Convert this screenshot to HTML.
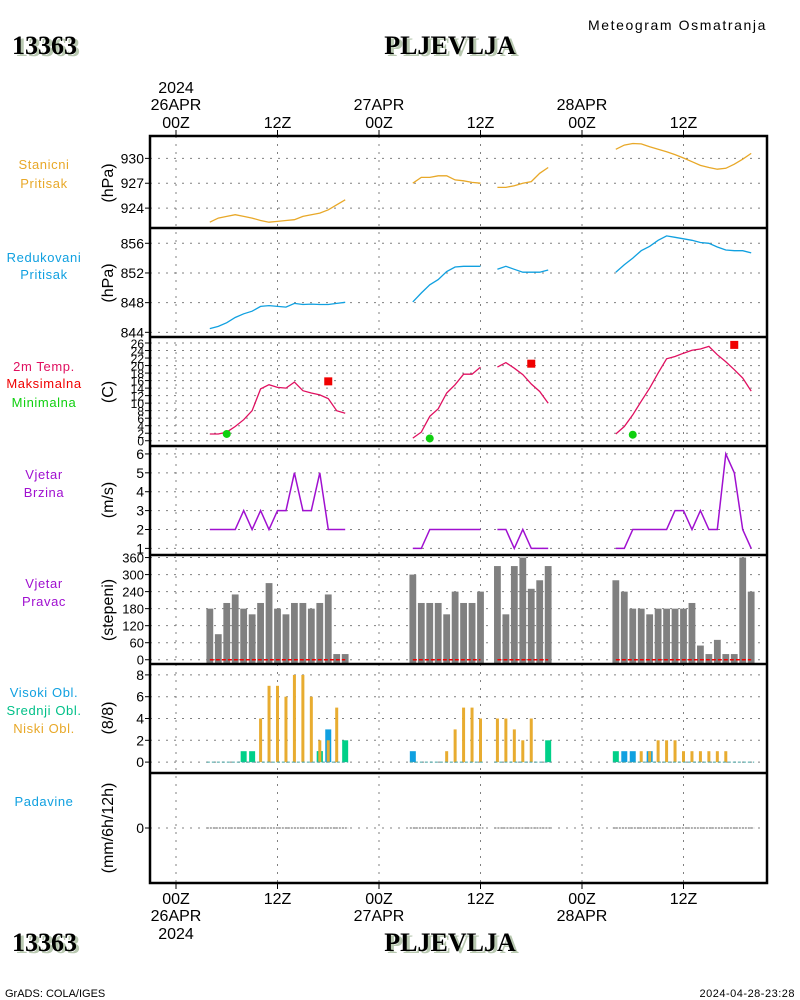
<!DOCTYPE html>
<html><head><meta charset="utf-8">
<style>
html,body{margin:0;padding:0;background:#fff;}
svg{display:block;font-family:"Liberation Sans",sans-serif;}
.t{font-size:14px;fill:#000;}
.ttl{font-family:"Liberation Serif",serif;font-weight:bold;font-size:26px;}
</style></head>
<body>
<svg id="chart" width="800" height="1000" viewBox="0 0 800 1000" xmlns="http://www.w3.org/2000/svg">
<g>
<text x="15" y="56" class="ttl" fill="#b8c8b0">13363</text>
<text x="12" y="54" class="ttl" fill="#000">13363</text>
<text x="453" y="56" class="ttl" fill="#b8c8b0" text-anchor="middle">PLJEVLJA</text>
<text x="450" y="54" class="ttl" fill="#000" text-anchor="middle">PLJEVLJA</text>
<text x="767" y="30" class="t" font-size="16" letter-spacing="1.6" text-anchor="end">Meteogram Osmatranja</text>
<text x="15" y="953" class="ttl" fill="#b8c8b0">13363</text>
<text x="12" y="951" class="ttl" fill="#000">13363</text>
<text x="453" y="953" class="ttl" fill="#b8c8b0" text-anchor="middle">PLJEVLJA</text>
<text x="450" y="951" class="ttl" fill="#000" text-anchor="middle">PLJEVLJA</text>
<text x="5" y="997" font-size="11">GrADS: COLA/IGES</text>
<text x="795" y="997" font-size="11" letter-spacing="0.5" text-anchor="end">2024-04-28-23:28</text>
</g>
</svg>
<script>
const segStart=[4,28,38,52];
const stnP=[[922.3,922.8,923.0,923.2,923.0,922.8,922.5,922.3,922.4,922.5,922.6,923.0,923.2,923.4,923.8,924.4,925.0],
[927.0,927.7,927.7,927.9,927.9,927.4,927.3,927.1,927.0],
[926.5,926.5,926.7,927.0,927.2,928.2,928.9],
[931.1,931.6,931.8,931.75,931.4,931.1,930.8,930.45,930.05,929.6,929.15,928.9,928.7,928.8,929.3,929.9,930.6]];
const redP=[[844.5,844.8,845.3,846.0,846.5,846.85,847.5,847.6,847.5,847.4,847.9,847.75,847.8,847.75,847.75,847.9,848.05],
[848.1,849.3,850.4,851.1,852.2,852.8,852.9,852.9,852.9],
[852.5,852.9,852.5,852.1,852.1,852.1,852.4],
[852.1,853.1,854.0,855.0,855.6,856.4,857.0,856.8,856.6,856.4,856.1,856.0,855.5,855.1,855.0,855.0,854.7]];
const temp=[[1.8,1.8,2.3,3.8,5.6,8.0,13.8,14.9,14.2,14.0,15.6,13.3,12.7,12.2,11.2,8.0,7.3],
[0.7,2.3,6.5,8.5,12.7,14.9,17.7,17.7,19.6],
[19.6,20.8,19.3,17.6,15.1,13.1,10.0],
[1.8,3.8,6.9,10.5,14.0,18.0,21.8,22.4,23.3,24.1,24.4,25.1,22.9,21.0,18.9,16.7,13.2]];
const tmaxHours=[18,42,66];
const tmaxVals=[15.8,20.5,25.5];
const tminHours=[6,30,54];
const tminVals=[1.8,0.6,1.6];
const wspd=[[2,2,2,2,3,2,3,2,3,3,5,3,3,5,2,2,2],
[1,1,2,2,2,2,2,2,2],
[2,2,1,2,1,1,1],
[1,1,2,2,2,2,2,3,3,2,3,2,2,6,5,2,1]];
const wdir=[[180,90,200,230,180,160,200,270,180,160,200,200,180,200,230,20,20],
[300,200,200,200,160,240,200,200,240],
[330,160,330,360,250,280,330],
[280,240,180,180,160,180,180,180,180,200,50,20,70,20,20,360,240]];
const cloudLow=[[0,0,0,0,0,0,4,7,7,6,8,8,6,2,2,5,0],
[0,0,0,0,1,3,5,5,4],
[4,4,3,2,4,0,0],
[0,0,0,1,1,2,2,2,1,1,1,1,1,1,0,0,0]];
const cloudMid=[[0,0,0,0,1,1,0,0,0,0,0,0,0,1,0,0,2],
[0,0,0,0,0,0,0,0,0],
[0,0,0,0,0,0,2],
[1,0,0,0,0,0,0,0,0,0,0,0,0,0,0,0,0]];
const cloudHigh=[[0,0,0,0,0,0,0,0,0,0,0,0,0,1,3,0,0],
[1,0,0,0,0,0,0,0,0],
[0,0,0,0,0,0,0],
[0,1,1,0,1,0,0,0,0,0,0,0,0,0,0,0,0]];
const precip=[[0,0,0],[0,0],[0,0],[0,0,0]];
const timeTicks=[0,12,24,36,48,60];
const timeLabels=["00Z","12Z","00Z","12Z","00Z","12Z"];
const dayLabels=["26APR","","27APR","","28APR",""];
const stnTicks=[924,927,930];
const redTicks=[844,848,852,856];
const tempTicks=[0,2,4,6,8,10,12,14,16,18,20,22,24,26];
const wsTicks=[1,2,3,4,5,6];
const wdTicks=[0,60,120,180,240,300,360];
const clTicks=[0,2,4,6,8];
const prTicks=[0];

const svg=document.getElementById('chart');
const NS='http://www.w3.org/2000/svg';
const X0=150,X1=767;
function xh(h){return 176+h*101.5/12;}
function mk(tag,attrs,parent){const e=document.createElementNS(NS,tag);for(const k in attrs)e.setAttribute(k,attrs[k]);(parent||svg).appendChild(e);return e;}
function txt(x,y,s,attrs,parent){const e=mk('text',Object.assign({x:x,y:y},attrs||{}),parent);e.textContent=s;return e;}
const panels={
 stn:{top:136,bot:228,vmin:921.6,vmax:932.7},
 red:{top:228,bot:337,vmin:843.37,vmax:858.06},
 tmp:{top:337,bot:446,vmin:-1.4,vmax:27.6},
 ws:{top:446,bot:555,vmin:0.65,vmax:6.42},
 wd:{top:555,bot:664,vmin:-15,vmax:369},
 cl:{top:664,bot:773,vmin:-1.0,vmax:9.0},
 pr:{top:773,bot:883,vmin:-1,vmax:1}
};
function ym(p,v){const P=panels[p];return P.bot-(v-P.vmin)/(P.vmax-P.vmin)*(P.bot-P.top);}

const grid=mk('g',{});


for(const h of timeTicks){const l=mk('line',{x1:xh(h),x2:xh(h),y1:136,y2:883,stroke:'#808080','stroke-dasharray':'2,6'},grid);

}
function hgrid(p,ticks,fs){
 const g=mk('g',{});
 
 
 for(const t of ticks){const y=ym(p,t);
  mk('line',{x1:X0,x2:X1,y1:y,y2:y,stroke:'#808080','stroke-dasharray':'2,6'},g);
  mk('line',{x1:X0-5,x2:X0,y1:y,y2:y,stroke:'#000'},g);
  const tl=txt(X0-6,y+5,String(t),{'text-anchor':'end','font-size':fs||14},g);
  
  }
}
hgrid('stn',stnTicks);hgrid('red',redTicks);hgrid('tmp',tempTicks,12);hgrid('ws',wsTicks);
hgrid('wd',wdTicks,13);hgrid('cl',clTicks);hgrid('pr',prTicks);

function seriesLine(p,data,color,name,w){
 data.forEach((seg,si)=>{const pts=seg.map((v,i)=>xh(segStart[si]+i).toFixed(1)+','+ym(p,v).toFixed(1)).join(' ');
  const pl=mk('polyline',{points:pts,fill:'none',stroke:color,'stroke-width':w||1.3});
  
  });
}
seriesLine('stn',stnP,'#e8a828','station-pressure-line');
seriesLine('red',redP,'#10a0e0','reduced-pressure-line');
seriesLine('tmp',temp,'#e01060','temperature-line');
seriesLine('ws',wspd,'#a010d0','wind-speed-line',1.5);
tmaxHours.forEach((h,i)=>{const r=mk('rect',{x:xh(h)-4,y:ym('tmp',tmaxVals[i])-4,width:8,height:8,fill:'#f00000'});
 
 });
tminHours.forEach((h,i)=>{const c=mk('circle',{cx:xh(h),cy:ym('tmp',tminVals[i]),r:4,fill:'#10d010'});
 
 });
wdir.forEach((seg,si)=>{seg.forEach((v,i)=>{const x=xh(segStart[si]+i);const y=ym('wd',v),y0=ym('wd',0);
 const r=mk('rect',{x:x-3.4,y:y,width:6.8,height:y0-y+5,fill:'#808080'});
 
 });
 const l=mk('line',{x1:xh(segStart[si]),x2:xh(segStart[si]+seg.length-1),y1:ym('wd',0),y2:ym('wd',0),stroke:'#f00000','stroke-width':1.5,'stroke-dasharray':'4,2'});
 
 });
function cbars(data,color,w,name){data.forEach((seg,si)=>{seg.forEach((v,i)=>{if(v<=0)return;const x=xh(segStart[si]+i);const y=ym('cl',v),y0=ym('cl',0);
 const r=mk('rect',{x:x-w/2,y:y,width:w,height:y0-y,fill:color});
 
 });});}
cbars(cloudHigh,'#10a0e0',6,'high-cloud-bar');
cbars(cloudMid,'#00d088',6,'mid-cloud-bar');
cbars(cloudLow,'#e8ac30',3,'low-cloud-bar');
cloudLow.forEach((seg,si)=>{const l=mk('line',{x1:xh(segStart[si])-3,x2:xh(segStart[si]+seg.length-1)+3,y1:ym('cl',0),y2:ym('cl',0),stroke:'#40a0a0','stroke-dasharray':'3,2'});
 
 });
cloudLow.forEach((seg,si)=>{const l=mk('line',{x1:xh(segStart[si])-3,x2:xh(segStart[si]+seg.length-1)+3,y1:ym('pr',precip[si][0]),y2:ym('pr',precip[si][0]),stroke:'#606060','stroke-dasharray':'2,1'});
 
 });
const fr=mk('g',{});


mk('rect',{x:X0,y:136,width:X1-X0,height:883-136,fill:'none',stroke:'#000','stroke-width':2.5},fr);
for(const y of [228,337,446,555,664,773])mk('line',{x1:X0,x2:X1,y1:y,y2:y,stroke:'#000','stroke-width':2.5},fr);
timeTicks.forEach((h,i)=>{const x=xh(h);
 mk('line',{x1:x,x2:x,y1:130,y2:136,stroke:'#000'});mk('line',{x1:x,x2:x,y1:883,y2:889,stroke:'#000'});
 const a=txt(x,128,timeLabels[i],{'text-anchor':'middle'});
 
 
 const b=txt(x,904,timeLabels[i],{'text-anchor':'middle'});
 
 
 if(dayLabels[i]){const c=txt(x,110,dayLabels[i],{'text-anchor':'middle'});
  
  
  const d=txt(x,921,dayLabels[i],{'text-anchor':'middle'});
  
  }
});
const y1=txt(xh(0),93,'2024',{'text-anchor':'middle'});


const y2=txt(xh(0),939,'2024',{'text-anchor':'middle'});


const L=[["Stanicni",169,'#e8a828'],["Pritisak",188,'#e8a828'],["Redukovani",262,'#10a0e0'],["Pritisak",279,'#10a0e0'],
["2m Temp.",371,'#e01060'],["Maksimalna",388,'#f00000'],["Minimalna",407,'#10d010'],
["Vjetar",479,'#a010d0'],["Brzina",497,'#a010d0'],["Vjetar",588,'#a010d0'],["Pravac",606,'#a010d0'],
["Visoki Obl.",697,'#10a0e0'],["Srednji Obl.",715,'#00c088'],["Niski Obl.",733,'#e8a828'],["Padavine",806,'#10a0e0']];
L.forEach(l=>{const e=txt(44,l[1],l[0],{'text-anchor':'middle',fill:l[2],'font-size':13,'letter-spacing':0.6});
 
 });
const U=[["(hPa)",183],["(hPa)",283],["(C)",392],["(m/s)",500],["(stepeni)",610],["(8/8)",718],["(mm/6h/12h)",828]];
U.forEach(u=>{const e=txt(0,0,u[0],{'text-anchor':'middle',transform:'translate(113,'+u[1]+') rotate(-90)'});
 
 });
</script>
</body></html>
